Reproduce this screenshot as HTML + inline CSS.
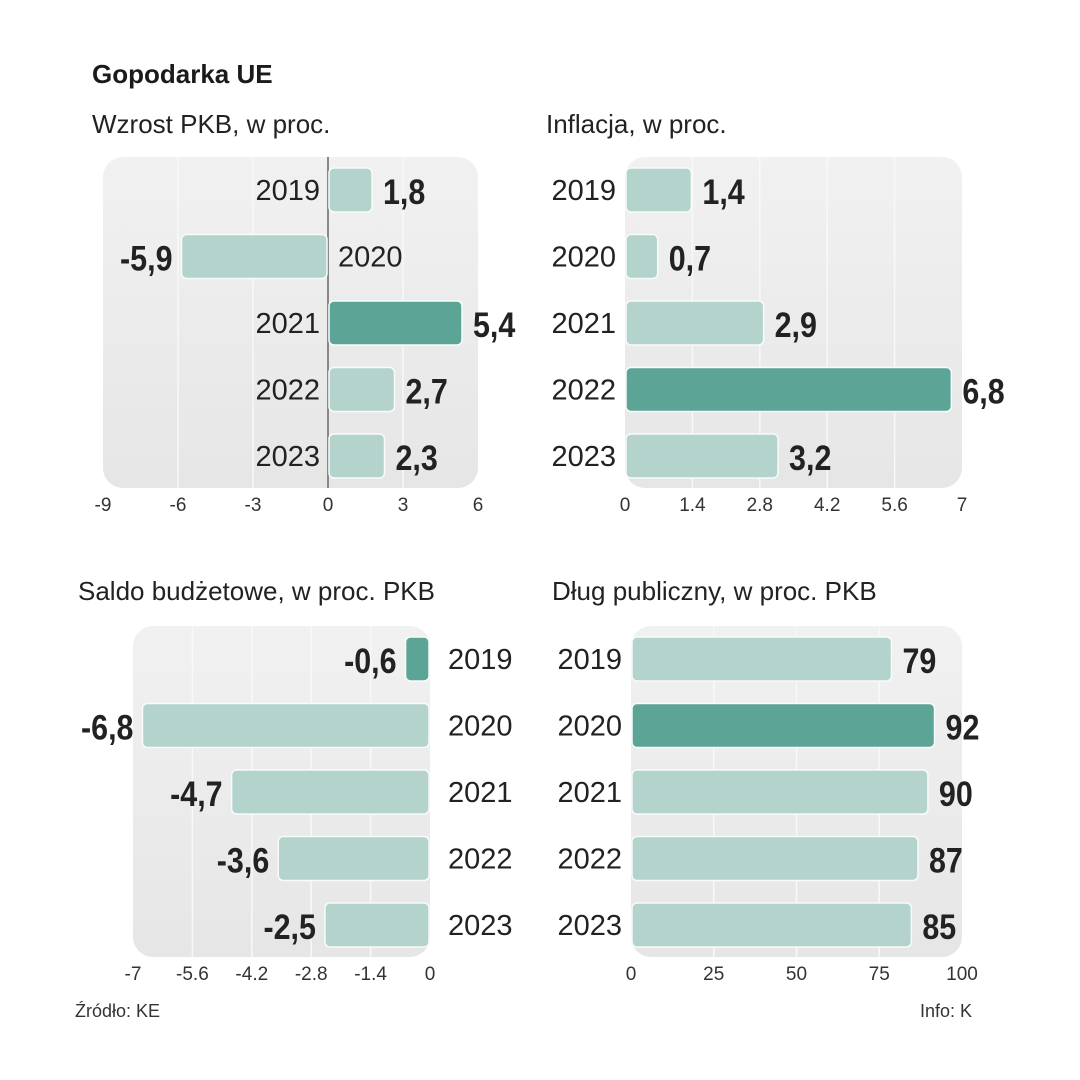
<!DOCTYPE html>
<html><head><meta charset="utf-8">
<style>
html,body{margin:0;padding:0;background:#fff;}
svg{display:block;font-family:"Liberation Sans",sans-serif;}
.yr{font-size:29px;fill:#222;}
.val{font-size:35px;font-weight:bold;fill:#222;}
.tick{font-size:19px;fill:#333;}
.ttl{font-size:26px;fill:#222;}
</style></head>
<body>
<svg id="chart" width="1080" height="1080" viewBox="0 0 1080 1080">
<defs>
<linearGradient id="bgg" x1="0" y1="0" x2="0" y2="1">
<stop offset="0" stop-color="#f1f1f1"/><stop offset="1" stop-color="#e6e6e6"/>
</linearGradient>
</defs>
<text x="92" y="83" font-size="26" font-weight="bold" fill="#1a1a1a">Gopodarka UE</text>
<text class="ttl" x="92" y="133">Wzrost PKB, w proc.</text>
<text class="ttl" x="546" y="133">Inflacja, w proc.</text>
<text class="ttl" x="78" y="600">Saldo budżetowe, w proc. PKB</text>
<text class="ttl" x="552" y="600">Dług publiczny, w proc. PKB</text>
<text x="75" y="1017" font-size="18" fill="#333">Źródło: KE</text>
<text x="972" y="1017" font-size="18" fill="#333" text-anchor="end">Info: K</text>
</svg>
<script>
const years = ["2019","2020","2021","2022","2023"];
const gdpValues = [1.8, -5.9, 5.4, 2.7, 2.3];
const gdpTicks = [-9, -6, -3, 0, 3, 6];
const gdpLabels = ["1,8","-5,9","5,4","2,7","2,3"];
const inflValues = [1.4, 0.7, 2.9, 6.8, 3.2];
const inflTicks = [0, 1.4, 2.8, 4.2, 5.6, 7];
const inflLabels = ["1,4","0,7","2,9","6,8","3,2"];
const budgetValues = [-0.6, -6.8, -4.7, -3.6, -2.5];
const budgetTicks = [-7, -5.6, -4.2, -2.8, -1.4, 0];
const budgetLabels = ["-0,6","-6,8","-4,7","-3,6","-2,5"];
const debtValues = [79, 92, 90, 87, 85];
const debtTicks = [0, 25, 50, 75, 100];
const debtLabels = ["79","92","90","87","85"];

const NS = "http://www.w3.org/2000/svg";
const svg = document.getElementById("chart");
function mk(tag, attrs, parent){
  const e = document.createElementNS(NS, tag);
  for (const k in attrs) e.setAttribute(k, attrs[k]);
  (parent||svg).appendChild(e);
  return e;
}
function panel(cfg){
  const g = mk("g", {});
  
  
  const min = cfg.ticks[0], max = cfg.ticks[cfg.ticks.length-1];
  const x = v => cfg.x0 + (v - min) / (max - min) * (cfg.x1 - cfg.x0);
  const bg = mk("rect", {x: cfg.x0, y: cfg.y0, width: cfg.x1 - cfg.x0, height: cfg.y1 - cfg.y0, rx: 20, fill: "url(#bgg)"}, g);
  
  
  cfg.ticks.forEach((t, i) => {
    if (i > 0 && i < cfg.ticks.length - 1) {
      const gl = mk("line", {x1: x(t), x2: x(t), y1: cfg.y0, y2: cfg.y1, stroke: "#f8f8f8", "stroke-width": 1.5}, g);
      
      
    }
    const tl = mk("text", {x: x(t), y: cfg.y1 + 23, class: "tick", "text-anchor": "middle"}, g);
    tl.textContent = String(t);
    
    
  });
  if (cfg.zeroLine) {
    const zl = mk("line", {x1: x(0), x2: x(0), y1: cfg.y0, y2: cfg.y1, stroke: "#888", "stroke-width": 2}, g);
    
    
  }
  cfg.values.forEach((v, i) => {
    const yt = cfg.y0 + 11 + i * 66.5, h = 44, yc = yt + h / 2;
    const xa = Math.min(x(0), x(v)), xb = Math.max(x(0), x(v));
    const b = mk("rect", {x: xa + 1, y: yt, width: Math.max(xb - xa - 2, 2), height: h, rx: 5,
      fill: i === cfg.hi ? "#5ca596" : "#b3d3cc", stroke: "#f7fbfa", "stroke-width": 1.5}, g);
    
    
    const vx = v >= 0 ? xb + 10 : xa - 8;
    const vl = mk("text", {class: "val", x: 0, y: 0, transform: "translate(" + vx + "," + (yc + 14) + ") scale(0.87,1)"}, g);
    vl.textContent = cfg.labels[i];
    if (v < 0) vl.setAttribute("text-anchor", "end");
    
    
    const yl = mk("text", {class: "yr", y: yc + 10}, g);
    yl.textContent = years[i];
    if (cfg.yearMode === "opposite") {
      if (v >= 0) { yl.setAttribute("x", x(0) - 8); yl.setAttribute("text-anchor", "end"); }
      else { yl.setAttribute("x", x(0) + 10); }
    } else if (cfg.yearMode === "left") {
      yl.setAttribute("x", cfg.x0 - 9); yl.setAttribute("text-anchor", "end");
    } else {
      yl.setAttribute("x", cfg.x1 + 18);
    }
    
    
  });
}
panel({name: "gdp-panel", values: gdpValues, labels: gdpLabels, ticks: gdpTicks, x0: 103, x1: 478, y0: 157, y1: 488, hi: 2, zeroLine: true, yearMode: "opposite"});
panel({name: "inflation-panel", values: inflValues, labels: inflLabels, ticks: inflTicks, x0: 625, x1: 962, y0: 157, y1: 488, hi: 3, yearMode: "left"});
panel({name: "budget-panel", values: budgetValues, labels: budgetLabels, ticks: budgetTicks, x0: 133, x1: 430, y0: 626, y1: 957, hi: 0, yearMode: "right"});
panel({name: "debt-panel", values: debtValues, labels: debtLabels, ticks: debtTicks, x0: 631, x1: 962, y0: 626, y1: 957, hi: 1, yearMode: "left"});
</script>
</body></html>
